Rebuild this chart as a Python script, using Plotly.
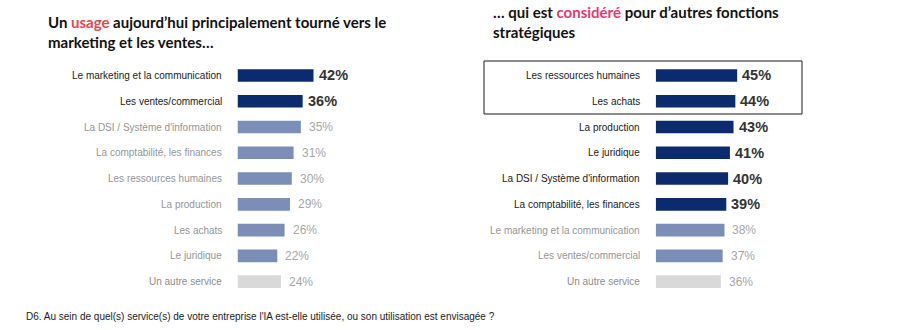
import plotly.graph_objects as go

# ---- data ----
left_categories = ["Le marketing et la communication", "Les ventes/commercial",
                   "La DSI / Système d'information", "La comptabilité, les finances",
                   "Les ressources humaines", "La production", "Les achats",
                   "Le juridique", "Un autre service"]
left_values = [42, 36, 35, 31, 30, 29, 26, 22, 24]
left_groups = ["top", "top", "mid", "mid", "mid", "mid", "mid", "mid", "other"]

right_categories = ["Les ressources humaines", "Les achats", "La production",
                    "Le juridique", "La DSI / Système d'information",
                    "La comptabilité, les finances", "Le marketing et la communication",
                    "Les ventes/commercial", "Un autre service"]
right_values = [45, 44, 43, 41, 40, 39, 38, 37, 36]
right_groups = ["top", "top", "top", "top", "top", "top", "mid", "mid", "other"]

title_left = "Un <span style='color:#e8454e'>usage</span> aujourd’hui principalement tourné vers le<br>marketing et les ventes…"
title_right = "… qui est <span style='color:#e8386e'>considéré</span> pour d’autres fonctions<br>stratégiques"
footnote = "D6. Au sein de quel(s) service(s) de votre entreprise l'IA est-elle utilisée, ou son utilisation est envisagée ?"

# ---- styles ----
BAR_COL = {"top": "#0c2b6e", "mid": "#7a8eb8", "other": "#d9d9d9"}
LBL_COL = {"top": "#1a1a1a", "mid": "#959595", "other": "#8c8c8c"}
VAL_COL = {"top": "#333333", "mid": "#a6a6a6", "other": "#a6a6a6"}
FONT = "Liberation Sans, Arial, sans-serif"
TFONT = "Lato, Open Sans, sans-serif"

W, H = 900, 330
PX_PER = 1.81
ROW_TOP, ROW_BOT = 62.6, 294.5
ydom = [1 - ROW_BOT / H, 1 - ROW_TOP / H]

fig = go.Figure()

def add_panel(cats, vals, groups, xname, yname, x0px):
    n = len(cats)
    idx = list(range(n))
    fig.add_trace(go.Bar(
        x=vals, y=idx, orientation="h", width=0.49,
        marker=dict(color=[BAR_COL[g] for g in groups], line=dict(width=0)),
        xaxis=xname, yaxis=yname, showlegend=False, hoverinfo="skip"))
    for i, (c, v, g) in enumerate(zip(cats, vals, groups)):
        fig.add_annotation(x=0, y=i, xref=xname, yref=yname, text=c, showarrow=False,
                           xanchor="right", yanchor="middle", xshift=-14,
                           font=dict(family=FONT, size=10, color=LBL_COL[g]))
        if g == "top":
            txt = f"<b>{v}%</b>"
            fnt = dict(family=FONT, size=14.5, color=VAL_COL[g])
            sh = 3
        else:
            txt = f"{v}%"
            fnt = dict(family=FONT, size=12, color=VAL_COL[g])
            sh = 6
        fig.add_annotation(x=v, y=i, xref=xname, yref=yname, text=txt, showarrow=False,
                           xanchor="left", yanchor="middle", xshift=sh, font=fnt)
    axis_len = 100 * PX_PER
    return [x0px / W, (x0px + axis_len) / W]

dl = add_panel(left_categories, left_values, left_groups, "x", "y", 237.5)
dr = add_panel(right_categories, right_values, right_groups, "x2", "y2", 655.7)

common_x = dict(range=[0, 100], showgrid=False, zeroline=False, showticklabels=False,
                showline=False, ticks="", fixedrange=True)
common_y = dict(range=[8.5, -0.5], showgrid=False, zeroline=False, showticklabels=False,
                showline=False, ticks="", domain=ydom, fixedrange=True)

fig.update_layout(
    width=W, height=H, margin=dict(l=0, r=0, t=0, b=0),
    paper_bgcolor="white", plot_bgcolor="white",
    xaxis=dict(domain=dl, anchor="y", **common_x),
    yaxis=dict(anchor="x", **common_y),
    xaxis2=dict(domain=dr, anchor="y2", **common_x),
    yaxis2=dict(anchor="x2", **common_y),
    barmode="overlay",
)

fig.add_annotation(x=46 / W, y=1 - 11 / H, xref="paper", yref="paper", text=f"<b>{title_left}</b>",
                   showarrow=False, xanchor="left", yanchor="top", align="left",
                   font=dict(family=TFONT, size=15, color="#111111"))
fig.add_annotation(x=491 / W, y=1 - 1 / H, xref="paper", yref="paper", text=f"<b>{title_right}</b>",
                   showarrow=False, xanchor="left", yanchor="top", align="left",
                   font=dict(family=TFONT, size=15, color="#111111"))
fig.add_annotation(x=24 / W, y=1 - 316 / H, xref="paper", yref="paper", text=footnote,
                   showarrow=False, xanchor="left", yanchor="middle", align="left",
                   font=dict(family=FONT, size=10, color="#1a1a1a"))

fig.add_shape(type="rect", xref="paper", yref="paper",
              x0=484 / W, x1=802 / W, y0=1 - 114 / H, y1=1 - 61 / H,
              line=dict(color="#1a1a1a", width=1), fillcolor="rgba(0,0,0,0)")

fig.write_html("out.html")
